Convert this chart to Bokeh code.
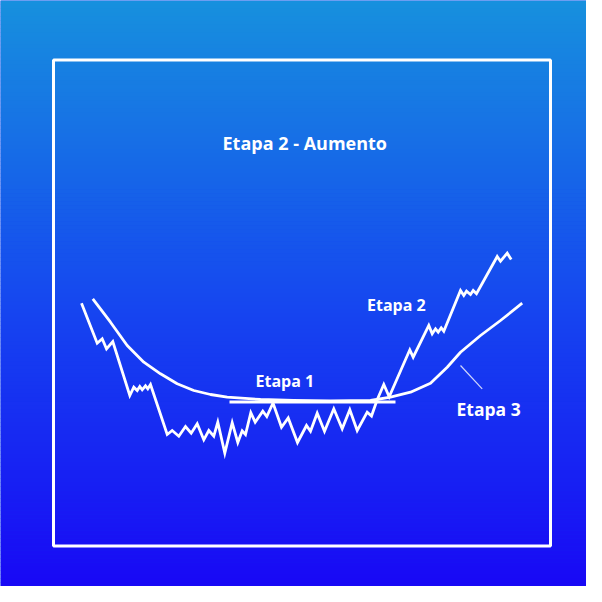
import numpy as np
from bokeh.plotting import figure
from bokeh.models import Range1d, ColumnDataSource
from bokeh.core.properties import value
from bokeh.embed import file_html
from bokeh.resources import INLINE

# all positions below (pixels, y grows downwards)

## price line (jagged) ##
price_x = [81, 96.7, 101.7, 106, 112.3, 129.3, 133.3, 136.7, 139.3, 141.7, 145, 147.3, 150,
           166.7, 171.7, 178.3, 185, 190.7, 196.7, 203.3, 208.3, 213.3, 217.3, 224.3, 231.7,
           237.3, 241.7, 245, 250.3, 254.7, 262.3, 266.3, 272.5, 281, 287.7, 297, 306, 310,
           316.7, 324, 333.3, 341.7, 349.3, 356.7, 366.7, 371, 376.7, 383.3, 388.7, 409.3,
           412.7, 428.3, 431.7, 435, 437.7, 440.7, 443.3, 460, 463.3, 466, 470, 472.7, 476,
           496.7, 500, 506.7, 510.7]
price_y = [302.7, 342.7, 338.3, 348.3, 341, 395, 386.7, 390, 386, 389.3, 385.3, 388.3, 384,
           434, 430, 435.7, 426, 432.7, 423.3, 439.3, 430, 435.7, 421.7, 452.7, 422.2,
           442, 430.3, 434, 412.2, 421.7, 410.7, 416, 402.5, 426.7, 417.5, 442, 425, 430.7,
           412.7, 430.7, 408.3, 428.3, 409.3, 430, 411.7, 415.5, 399.3, 384, 396.3, 349.3,
           356.7, 325, 333.3, 328.3, 331.7, 327.3, 330.7, 290, 295, 290.7, 294, 290, 293.3,
           256, 260.7, 252.7, 259]

## smooth trend curve ##
trend_x = [92.3, 110, 126.7, 143.3, 160, 176.7, 193.3, 210, 226.7, 260, 293, 330, 370,
           390, 410, 430, 446.7, 460, 480, 500, 521.7]
trend_y = [298.3, 321.7, 345, 361.7, 373.3, 383.3, 390, 394, 396.7, 399, 400, 400.5, 400,
           396.7, 391.7, 382.7, 366.7, 351.7, 335, 320, 302.7]

## support line and pointer ##
support_x = [229, 395]
support_y = [401.5, 401.5]
pointer_x = [460, 481.7]
pointer_y = [365, 388.3]

## labels ##
label_text = ["Etapa 1", "Etapa 2", "Etapa 3"]
label_x = [255, 366.5, 456]
label_y = [380.5, 304.5, 408.5]
label_size = ["16px", "16px", "17.5px"]
title_text = "Etapa 2 - Aumento"

## frame ##
frame = dict(left=53, right=550, top=59.5, bottom=545.5)

W = 586
p = figure(width=W, height=W, output_backend="svg", toolbar_location=None,
           x_range=Range1d(0, W), y_range=Range1d(W, 0),
           min_border=0, outline_line_color=None)
p.axis.visible = False
p.grid.visible = False
p.background_fill_color = "#1648f0"
p.border_fill_color = "#1648f0"

# background gradient, light blue at top to deep blue at bottom
stops_y = [0, 300, 602]
stops_c = np.array([[24, 145, 222], [22, 72, 240], [25, 5, 246]], dtype=float)
edges = np.linspace(0, 602, 151)
mids = (edges[:-1] + edges[1:]) / 2
cols = []
for m in mids:
    r = np.interp(m, stops_y, stops_c[:, 0])
    g = np.interp(m, stops_y, stops_c[:, 1])
    b = np.interp(m, stops_y, stops_c[:, 2])
    cols.append("#%02x%02x%02x" % (int(r), int(g), int(b)))
p.quad(left=0, right=602, top=edges[:-1], bottom=edges[1:] + 0.5,
       fill_color=cols, line_color=None)

# frame
p.quad(left=frame["left"], right=frame["right"], top=frame["top"], bottom=frame["bottom"],
       fill_alpha=0, line_color="white", line_width=3)

# lines
p.line(trend_x, trend_y, line_color="white", line_width=2.8, line_join="round")
p.line(support_x, support_y, line_color="white", line_width=3)
p.line(price_x, price_y, line_color="white", line_width=2.8, line_join="miter")
p.line(pointer_x, pointer_y, line_color="white", line_width=1.2, line_alpha=0.8)

# texts
src = ColumnDataSource(dict(x=label_x, y=label_y, text=label_text, size=label_size))
p.text(x="x", y="y", text="text", source=src, text_color="white",
       text_font=value("Open Sans"), text_font_style="bold", text_font_size="size",
       text_baseline="alphabetic", text_align="left")
p.text(x=[222], y=[142], text=[title_text], text_color="white",
       text_font=value("Open Sans"), text_font_style="bold", text_font_size="18px",
       text_baseline="alphabetic", text_align="left")

open("out.html", "w").write(file_html(p, INLINE))
